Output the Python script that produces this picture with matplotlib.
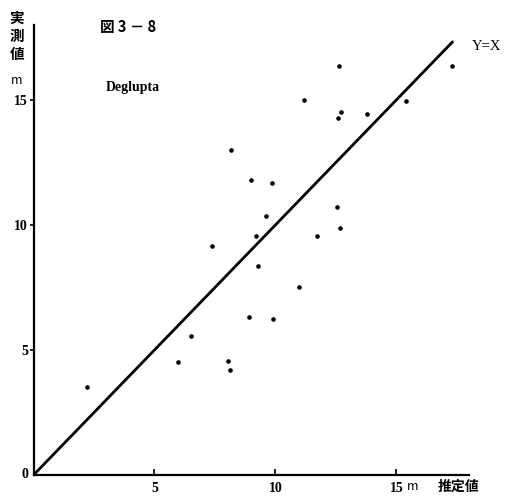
import matplotlib.pyplot as plt
import numpy as np

plt.rcParams['font.family'] = ['Noto Sans CJK JP', 'DejaVu Sans']

# estimated height (x) vs measured height (y), metres
estimated = [2.21, 5.97, 6.51, 7.38, 8.04, 8.12, 8.16, 8.90, 8.98, 9.19,
             9.28, 9.61, 9.86, 9.90, 10.97, 11.18, 11.71, 12.54, 12.62, 12.58,
             12.67, 12.71, 13.78, 15.39, 17.29]
measured = [3.52, 4.52, 5.56, 9.16, 4.56, 4.20, 13.00, 6.32, 11.80, 9.56,
            8.36, 10.36, 11.68, 6.24, 7.52, 15.00, 9.56, 10.72, 16.36, 14.28,
            9.88, 14.52, 14.44, 14.96, 16.36]
ticks = [5, 10, 15]
line_end = 17.35

fig = plt.figure(figsize=(5.11, 5.04), dpi=100)
ax = fig.add_axes([0.0656, 0.0575, 0.852, 0.893])

ax.plot([0, line_end], [0, line_end], color='black', lw=2.0, solid_capstyle='butt')
ax.plot(estimated, measured, 'o', color='black', ms=2.3)

ax.set_xlim(0, 18)
ax.set_ylim(0, 18)
for side in ['top', 'right']:
    ax.spines[side].set_visible(False)
for side in ['left', 'bottom']:
    ax.spines[side].set_linewidth(1.6)

ax.set_xticks(ticks)
ax.set_yticks(ticks)
ax.set_xticklabels([str(t) for t in ticks], fontsize=10, fontweight='bold',
                   family='Liberation Serif')
ax.set_yticklabels([str(t) for t in ticks], fontsize=10, fontweight='bold',
                   family='Liberation Serif')
ax.tick_params(axis='x', direction='in', length=4, width=1.2, pad=5)
ax.tick_params(axis='y', direction='out', length=3, width=1.2, pad=1)

# labels drawn in figure pixels
def px(x, y):
    return x / 511, 1 - y / 504

fig.text(*px(25, 475), '0', fontsize=10, fontweight='bold', family='Liberation Serif',
         ha='center', va='center')
fig.text(*px(413, 487), 'm', fontsize=9, ha='center', va='center')
fig.text(*px(458, 487), '推定値', fontsize=10, fontweight='bold', ha='center', va='center')
fig.text(*px(17, 36), '実\n測\n値', fontsize=10.5, fontweight='bold', ha='center',
         va='center', linespacing=1.15)
fig.text(*px(17, 80), 'm', fontsize=9, ha='center', va='center')
fig.text(*px(128, 27), '図 3 － 8', fontsize=10.5, fontweight='bold', ha='center', va='center')
fig.text(*px(133, 88), 'Deglupta', fontsize=10, fontweight='bold', family='Liberation Serif',
         ha='center', va='center')
fig.text(*px(487, 46), 'Y=X', fontsize=10.5, family='Liberation Serif', ha='center', va='center')

fig.savefig('out.png', dpi=100)
